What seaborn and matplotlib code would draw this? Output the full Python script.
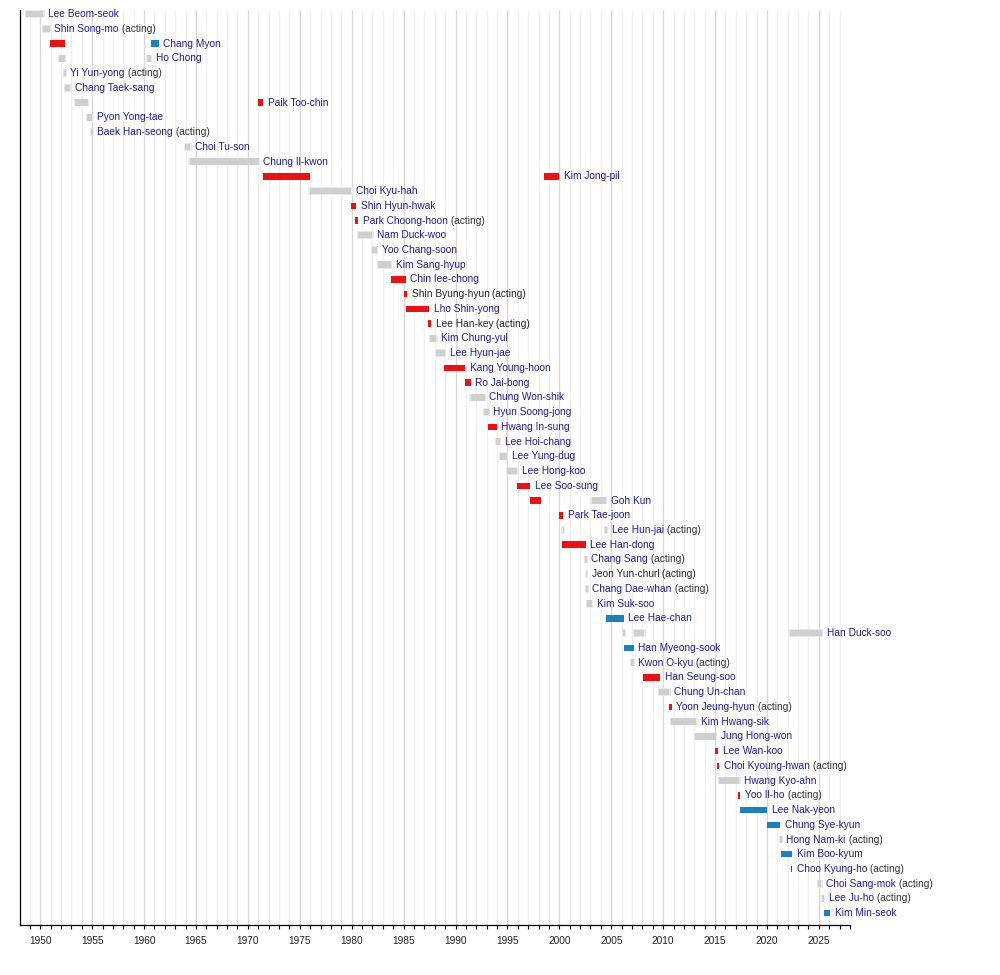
import matplotlib
matplotlib.use("Agg")
import matplotlib.pyplot as plt
import seaborn as sns
import pandas as pd

# one row per prime minister, top to bottom
names = [
    "Lee Beom-seok", "Shin Song-mo", "Chang Myon", "Ho Chong", "Yi Yun-yong",
    "Chang Taek-sang", "Paik Too-chin", "Pyon Yong-tae", "Baek Han-seong",
    "Choi Tu-son", "Chung Il-kwon", "Kim Jong-pil", "Choi Kyu-hah",
    "Shin Hyun-hwak", "Park Choong-hoon", "Nam Duck-woo", "Yoo Chang-soon",
    "Kim Sang-hyup", "Chin Iee-chong", "Shin Byung-hyun", "Lho Shin-yong",
    "Lee Han-key", "Kim Chung-yul", "Lee Hyun-jae", "Kang Young-hoon",
    "Ro Jai-bong", "Chung Won-shik", "Hyun Soong-jong", "Hwang In-sung",
    "Lee Hoi-chang", "Lee Yung-dug", "Lee Hong-koo", "Lee Soo-sung", "Goh Kun",
    "Park Tae-joon", "Lee Hun-jai", "Lee Han-dong", "Chang Sang",
    "Jeon Yun-churl", "Chang Dae-whan", "Kim Suk-soo", "Lee Hae-chan",
    "Han Duck-soo", "Han Myeong-sook", "Kwon O-kyu", "Han Seung-soo",
    "Chung Un-chan", "Yoon Jeung-hyun", "Kim Hwang-sik", "Jung Hong-won",
    "Lee Wan-koo", "Choi Kyoung-hwan", "Hwang Kyo-ahn", "Yoo Il-ho",
    "Lee Nak-yeon", "Chung Sye-kyun", "Hong Nam-ki", "Kim Boo-kyum",
    "Choo Kyung-ho", "Choi Sang-mok", "Lee Ju-ho", "Kim Min-seok",
]
acting_rows = [1, 4, 8, 14, 19, 21, 35, 37, 38, 39, 44, 47, 51, 53, 56, 58, 59, 60]
unlinked_rows = [19, 21, 38]

# terms: row index, start year, end year, party
term_row = [0, 1, 2, 2, 3, 3, 4, 5, 6, 6, 7, 8, 9, 10, 11, 11, 12, 13, 14, 15,
            16, 17, 18, 19, 20, 21, 22, 23, 24, 25, 26, 27, 28, 29, 30, 31, 32,
            33, 33, 34, 35, 35, 36, 37, 38, 39, 40, 41, 42, 42, 42, 43, 44, 45,
            46, 47, 48, 49, 50, 51, 52, 53, 54, 55, 56, 57, 58, 59, 60, 61]
term_start = [1948.62, 1950.30, 1950.92, 1960.68, 1951.85, 1960.30, 1952.30,
              1952.42, 1953.35, 1970.95, 1954.55, 1954.92, 1963.95, 1964.40,
              1971.45, 1998.55, 1975.95, 1979.92, 1980.35, 1980.60, 1982.00,
              1982.55, 1983.75, 1985.02, 1985.25, 1987.35, 1987.55, 1988.15,
              1988.90, 1990.95, 1991.45, 1992.75, 1993.15, 1993.90, 1994.30,
              1994.95, 1995.95, 1997.15, 2003.10, 2000.00, 2000.33, 2004.43,
              2000.30, 2002.50, 2002.58, 2002.60, 2002.70, 2004.50, 2006.15,
              2007.20, 2022.20, 2006.25, 2006.95, 2008.10, 2009.65, 2010.52,
              2010.75, 2013.10, 2015.02, 2015.22, 2015.40, 2017.22, 2017.40,
              2020.00, 2021.25, 2021.40, 2022.30, 2024.95, 2025.30, 2025.45]
term_end = [1950.30, 1950.92, 1952.38, 1961.40, 1952.38, 1960.68, 1952.45,
            1952.90, 1954.60, 1971.45, 1955.00, 1955.05, 1964.45, 1971.05,
            1976.00, 2000.00, 1979.95, 1980.45, 1980.65, 1982.00, 1982.45,
            1983.80, 1985.20, 1985.32, 1987.45, 1987.65, 1988.15, 1989.00,
            1990.95, 1991.45, 1992.80, 1993.20, 1993.95, 1994.30, 1994.95,
            1995.95, 1997.20, 1998.20, 2004.50, 2000.40, 2000.45, 2004.58,
            2002.55, 2002.62, 2002.68, 2002.74, 2003.15, 2006.20, 2006.30,
            2008.20, 2025.30, 2007.15, 2007.15, 2009.70, 2010.60, 2010.82,
            2013.20, 2015.10, 2015.30, 2015.42, 2017.35, 2017.45, 2020.05,
            2021.30, 2021.42, 2022.40, 2022.42, 2025.25, 2025.48, 2026.10]
term_party = ["ind", "ind", "con", "lib", "ind", "ind", "ind", "ind", "ind",
              "con", "ind", "ind", "ind", "ind", "con", "con", "ind", "con",
              "con", "ind", "ind", "ind", "con", "con", "con", "con", "ind",
              "ind", "con", "con", "ind", "ind", "con", "ind", "ind", "ind",
              "con", "con", "ind", "con", "ind", "ind", "con", "ind", "ind",
              "ind", "ind", "lib", "ind", "ind", "ind", "lib", "ind", "con",
              "ind", "con", "ind", "ind", "con", "con", "ind", "con", "lib",
              "lib", "ind", "lib", "con", "ind", "ind", "lib"]

party_colors = {"con": "#ee1010", "lib": "#1a80c2", "ind": "#cfcfcf"}

terms = pd.DataFrame({"row": term_row, "start": term_start,
                      "end": term_end, "party": term_party})
terms["width"] = terms["end"] - terms["start"]
last_end = terms.groupby("row")["end"].max()

sns.set_theme(style="white")
plt.rcParams["font.family"] = ["Liberation Sans", "DejaVu Sans"]

fig, ax = plt.subplots(figsize=(10, 9.75), dpi=100)
fig.subplots_adjust(left=0.02, right=0.85, bottom=0.0513, top=0.99)

# soft halo behind the grey (non-partisan) bars
grey = terms[terms["party"] == "ind"]
ax.barh(grey["row"], grey["width"] + 0.25, left=grey["start"] - 0.12,
        height=0.52, color="#e9e9e9", linewidth=0, zorder=2)
ax.barh(terms["row"], terms["width"], left=terms["start"], height=0.44,
        color=terms["party"].map(party_colors), linewidth=0, zorder=3)

# name labels after the last term of each row
for i, name in enumerate(names):
    plain = i in unlinked_rows
    t = ax.text(last_end[i] + 0.45, i, name, fontsize=7.3, ha="left",
                va="center", color="#222222" if plain else "#1c1ca6", zorder=4)
    if i in acting_rows:
        ax.annotate(" (acting)", xy=(1, 0), xycoords=t, ha="left", va="bottom",
                    fontsize=7.3, color="#222222" if plain else "#333333")

ax.set_xlim(1948.05, 2028.0)
ax.set_ylim(61.8, -0.3)
ax.set_xticks(range(1950, 2026, 5))
ax.set_xticks(range(1949, 2029), minor=True)
ax.set_yticks([])
ax.set_axisbelow(True)
ax.grid(which="major", axis="x", color="#d6d6d6", linewidth=0.9)
ax.grid(which="minor", axis="x", color="#efefef", linewidth=0.9)
ax.tick_params(axis="x", which="both", direction="out", length=3, width=0.8,
               color="black", bottom=True, labelsize=7.3, labelcolor="#222222",
               pad=5)
for side in ["top", "right"]:
    ax.spines[side].set_visible(False)
for side in ["left", "bottom"]:
    ax.spines[side].set_color("black")
    ax.spines[side].set_linewidth(0.9)

fig.savefig("out.png", dpi=100, facecolor="white")
